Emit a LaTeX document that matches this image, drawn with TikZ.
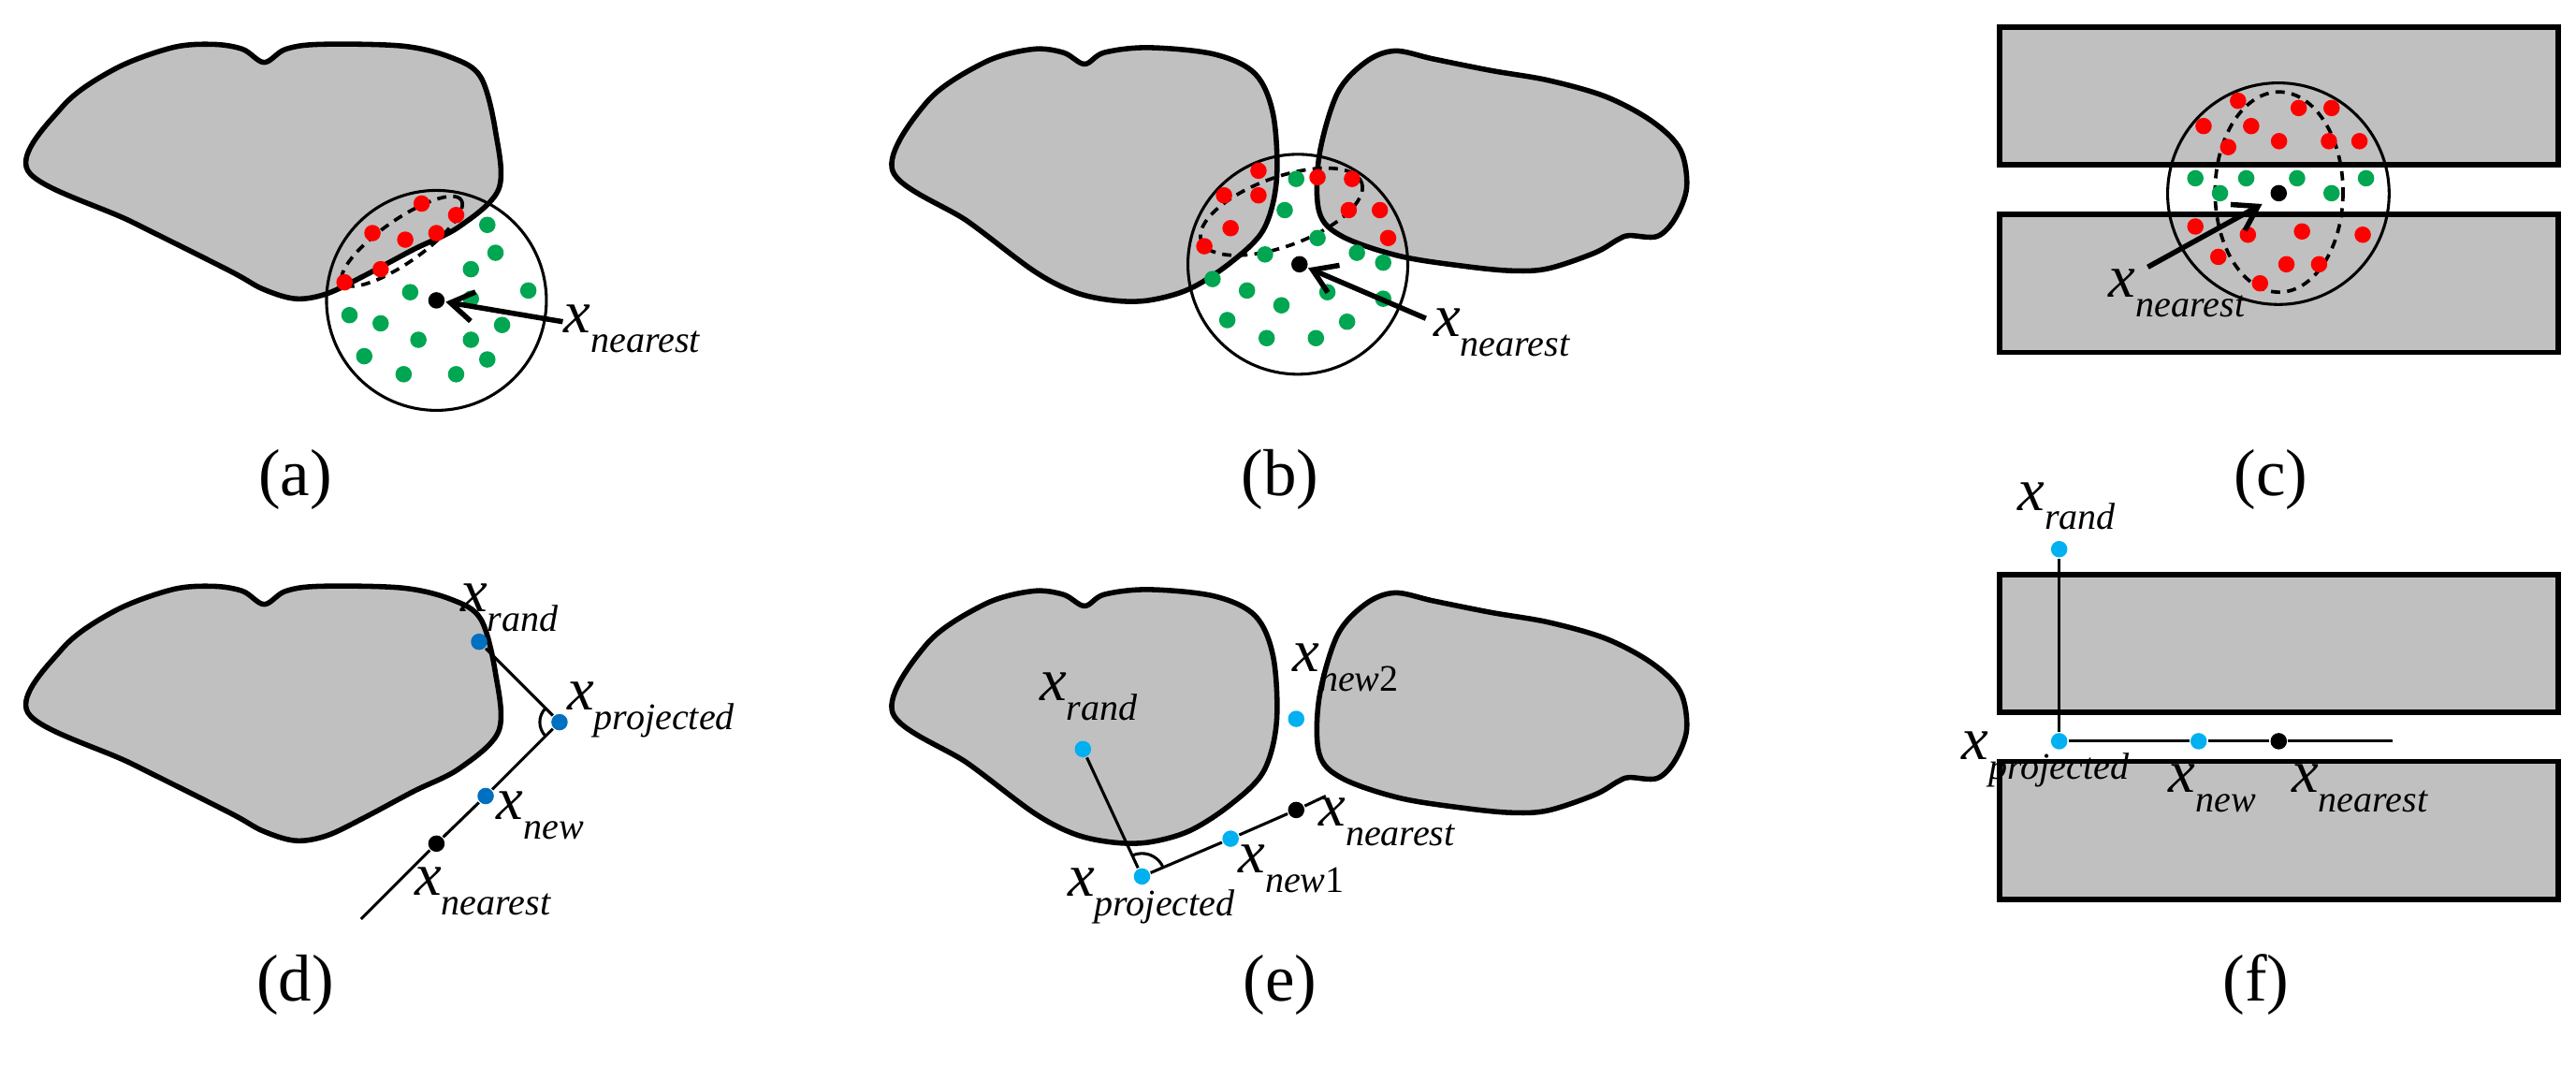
\documentclass[tikz,border=0pt]{standalone}
\usepackage{fontspec}
\setmainfont{Liberation Serif}
\usetikzlibrary{arrows.meta,angles}
\definecolor{ptred}{RGB}{255,0,0}
\definecolor{ptgreen}{RGB}{0,166,81}
\definecolor{ptblue}{RGB}{0,112,192}
\definecolor{ptcyan}{RGB}{0,176,240}
\definecolor{obst}{RGB}{192,192,192}
\newcommand{\xlab}[1]{{\fontsize{10.5}{10}\selectfont\textit{x}}\raisebox{-3.4pt}{\fontsize{6.5}{6.5}\selectfont\textit{#1}}}
\tikzset{obstacle/.style = {draw, fill=obst, line width=0.9pt}}
\tikzset{dot/.style = {circle, inner sep=0pt, minimum size=0.1cm}}
\tikzset{rdot/.style = {dot, fill=ptred}}
\tikzset{gdot/.style = {dot, fill=ptgreen}}
\tikzset{bdot/.style = {dot, fill=ptblue}}
\tikzset{cdot/.style = {dot, fill=ptcyan}}
\tikzset{kdot/.style = {dot, fill=black}}
\tikzset{lab/.style = {anchor=base west, inner sep=0pt}}
\tikzset{caption/.style = {font=\fontsize{11.5}{13}\selectfont}}
\tikzset{reach/.style = {draw, line width=0.5pt}}
\tikzset{region/.style = {draw, line width=0.6pt, dash pattern=on 1.6pt off 1.2pt}}
\newcommand{\blobA}{plot[smooth cycle, tension=0.55] coordinates {(17,104) (38,65) (70,42) (105,29) (130,27) (148,30) (161,38) (174,30) (195,27) (245,28) (275,35) (293,47) (302,80) (304,115) (280,138) (252,152) (222,168) (199,179) (180,182) (160,176) (140,165) (80,135)}}
\newcommand{\blobL}{plot[smooth cycle, tension=0.55] coordinates {(544,104) (565,62) (600,38) (629,30) (648,32) (661,39) (673,32) (700,29) (740,33) (765,45) (776,70) (778,110) (770,140) (750,160) (725,176) (700,183) (678,183) (655,178) (630,165) (590,135)}}
\newcommand{\blobR}{plot[smooth cycle, tension=0.55] coordinates {(850,31) (874,36) (909,43) (944,49) (979,59) (1007,74) (1024,91) (1028,114) (1021,133) (1010,144) (993,143.5) (986,146) (972,154) (944,163.5) (923,165) (895,162.5) (853,156) (818,144) (804,129) (804,95) (815,57) (832,38)}}

\begin{document}
\begin{tikzpicture}[x=0.01cm, y=-0.01cm, >={Straight Barb[length=1.4mm, width=1.8mm]}]
  \useasboundingbox (0,0) rectangle (1570,650);

  % (a)
  \draw[obstacle] \blobA;
  \draw[reach] (266,183) circle (67);
  \draw[region] (245,147) ellipse [x radius=44, y radius=13, rotate=35];
  \foreach \p [count=\i] in {(257,124),(278,131),(227,142),(247,146),(266,142),(232,164),(210,172)}
    \node[rdot] (a-r\i) at \p {};
  \foreach \p [count=\i] in {(297,137),(302,154),(287,164),(322,177),(250,178),(287,182),(213,192),(232,197),(306,198),(255,207),(287,207),(222,217),(297,219),(246,228),(278,228)}
    \node[gdot] (a-g\i) at \p {};
  \node[kdot] (a-near) at (266,183) {};
  \node[lab] (a-lab) at (343,202.5) {\xlab{nearest}};
  \coordinate (a-tail) at (343,196);
  \draw[->, line width=0.9pt] (a-tail) -- (a-near);
  \node[caption] (a-cap) at (180,292) {(a)};

  % (b)
  \draw[obstacle] \blobL;
  \draw[obstacle] \blobR;
  \draw[reach] (791,161) circle (67);
  \draw[region] (781,129) ellipse [x radius=52, y radius=21, rotate=20];
  \foreach \p [count=\i] in {(767,104),(746,119),(767,119),(750,139),(734,150),(803,108),(824,109),(822,128),(841,128),(846,145)}
    \node[rdot] (b-r\i) at \p {};
  \foreach \p [count=\i] in {(790,109),(783,128),(803,145),(771,155),(827,154),(843,160),(739,170),(760,177),(809,178),(843,182),(781,186),(748,195),(821,196),(772,206),(802,206)}
    \node[gdot] (b-g\i) at \p {};
  \node[kdot] (b-near) at (792,161) {};
  \node[lab] (b-lab) at (873,205) {\xlab{nearest}};
  \coordinate (b-tail) at (869,194);
  \draw[->, line width=0.9pt] (b-tail) -- (b-near);
  \node[caption] (b-cap) at (780,292) {(b)};

  % (c)
  \draw[obstacle] (1218.6,16.5) rectangle (1559,100.5);
  \draw[obstacle] (1218.6,130.5) rectangle (1559,214.6);
  \draw[reach] (1388.6,118) circle (67.5);
  \draw[region] (1389,117) ellipse [x radius=39, y radius=61];
  \foreach \p [count=\i] in {(1364,61.4),(1343,76.8),(1372,76.8),(1358,89.6),(1389,86),(1401,65.8),(1421,65.8),(1419.4,86),(1438,86),(1338,138),(1370,143),(1403,141),(1440,143),(1352,156.5),(1393.5,161),(1413.4,161),(1377.4,172.6)}
    \node[rdot] (c-r\i) at \p {};
  \foreach \p [count=\i] in {(1338,108.6),(1369,108.6),(1400,108.6),(1442,108.6),(1353,117.7),(1421,117.7)}
    \node[gdot] (c-g\i) at \p {};
  \node[kdot] (c-near) at (1388.8,117.7) {};
  \coordinate (c-tail) at (1309,162.7);
  \coordinate (c-tip) at (1378.7,124.3);
  \draw[->, line width=0.9pt] (c-tail) -- (c-tip);
  \node[lab] (c-lab) at (1284.7,181) {\xlab{nearest}};
  \node[caption] (c-cap) at (1384,292.5) {(c)};

  % (d)
  \begin{scope}[yshift=-3.3cm]
    \draw[obstacle] \blobA;
  \end{scope}
  \node[bdot] (d-rand) at (292,391) {};
  \node[bdot] (d-proj) at (341,440) {};
  \node[bdot] (d-new) at (296,485) {};
  \node[kdot] (d-near) at (266,514) {};
  \coordinate (d-end) at (220,560);
  \draw[line width=0.5pt] (d-rand) -- (d-proj);
  \draw[line width=0.5pt] (d-end) -- (d-near) -- (d-new) -- (d-proj);
  \pic[draw, line width=0.5pt, angle radius=0.12cm] {angle = d-rand--d-proj--d-near};
  \node[lab] (d-lab1) at (280,372.7) {\xlab{rand}};
  \node[lab] (d-lab2) at (345,432.6) {\xlab{projected}};
  \node[lab] (d-lab3) at (302,499) {\xlab{new}};
  \node[lab] (d-lab4) at (252,545.7) {\xlab{nearest}};
  \node[caption] (d-cap) at (180,600) {(d)};

  % (e)
  \begin{scope}[yshift=-3.3cm]
    \draw[obstacle] \blobL;
    \draw[obstacle] \blobR;
  \end{scope}
  \node[cdot] (e-rand) at (660,456.4) {};
  \node[cdot] (e-new2) at (790,438) {};
  \node[cdot] (e-proj) at (696,534) {};
  \node[cdot] (e-new1) at (750,511) {};
  \node[kdot] (e-near) at (790,493.5) {};
  \coordinate (e-end) at (808,485);
  \draw[line width=0.5pt] (e-rand) -- (e-proj);
  \draw[line width=0.5pt] (e-proj) -- (e-new1) -- (e-near) -- (e-end);
  \pic[draw, line width=0.5pt, angle radius=0.14cm] {angle = e-near--e-proj--e-rand};
  \node[lab] (e-lab1) at (633,427) {\xlab{rand}};
  \node[lab] (e-lab2) at (787,409) {\xlab{new\textup{2}}};
  \node[lab] (e-lab3) at (650,546) {\xlab{projected}};
  \node[lab] (e-lab4) at (754,532) {\xlab{new\textup{1}}};
  \node[lab] (e-lab5) at (803,503) {\xlab{nearest}};
  \node[caption] (e-cap) at (780,600) {(e)};

  % (f)
  \draw[obstacle] (1218.6,350) rectangle (1559,434);
  \draw[obstacle] (1218.6,464) rectangle (1559,548);
  \node[cdot] (f-rand) at (1255,334.6) {};
  \node[cdot] (f-proj) at (1255,451.6) {};
  \node[cdot] (f-new) at (1340,451.6) {};
  \node[kdot] (f-near) at (1388.8,451.6) {};
  \coordinate (f-end) at (1458,451.6);
  \draw[line width=0.5pt] (f-rand) -- (f-proj);
  \draw[line width=0.5pt] (f-proj) -- (f-new) -- (f-near) -- (f-end);
  \node[lab] (f-lab1) at (1229,310.8) {\xlab{rand}};
  \node[lab] (f-lab2) at (1195,462.5) {\xlab{projected}};
  \node[lab] (f-lab3) at (1321,482.6) {\xlab{new}};
  \node[lab] (f-lab4) at (1396,482.6) {\xlab{nearest}};
  \node[caption] (f-cap) at (1375,600) {(f)};
\end{tikzpicture}
\end{document}
